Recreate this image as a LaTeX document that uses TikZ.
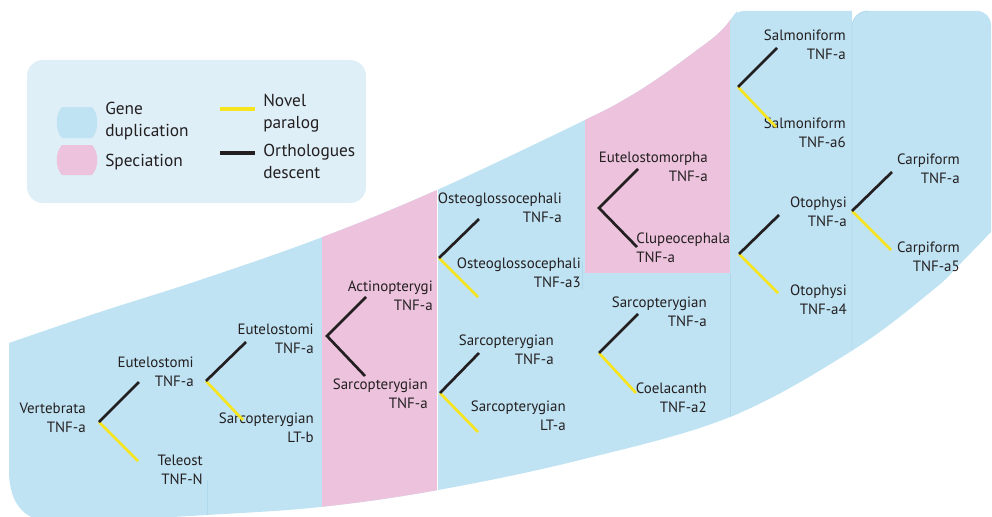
\documentclass[tikz,border=0pt]{standalone}
\usepackage{fontspec}
\setmainfont{PT Sans}

\definecolor{dupblue}{RGB}{191,227,243}
\definecolor{specpink}{RGB}{236,194,220}
\definecolor{legendbg}{RGB}{222,239,248}
\definecolor{novel}{RGB}{246,228,30}
\definecolor{ortho}{RGB}{35,31,32}
\definecolor{seam}{RGB}{176,216,236}
\definecolor{inktext}{RGB}{35,31,32}

\begin{document}
\begin{tikzpicture}[x=0.75pt,y=-0.75pt,
  lbl/.style={font=\fontsize{11.2}{14.3}\selectfont, text=inktext, inner sep=0pt,
              align=right, anchor=east},
  lbll/.style={lbl, align=left, anchor=west},
  legtext/.style={font=\fontsize{13}{16.5}\selectfont, text=inktext, inner sep=0pt,
                  align=left, anchor=west},
  ortholine/.style={draw=ortho, line width=2pt},
  novelline/.style={draw=novel, line width=2pt},
  seamline/.style={draw=seam, line width=0.6pt}]

\useasboundingbox (0,0) rectangle (992,517);

% ---------- background band ----------
% (y grows downwards here, so an arc from 180 to 270 degrees turns upwards)
\begin{scope}
  % everything above the lower edge of the band
  \clip (0,0) -- (992,0) -- (991,232)
        -- plot[smooth, tension=0.6] coordinates {(991,232) (960,264) (933,290) (853,350)
              (730,417) (580,460) (438,490) (320,507) (207,515) (60,523)}
        .. controls (25,523) and (9,505) .. (9,470) -- (0,470) -- (0,0) -- cycle;
  \begin{scope}
    % below the upper edge of the band
    \clip (9,600) -- (9,343)
          -- plot[smooth, tension=0.6] coordinates {(9,343) (100,312) (200,280) (320,238)
                (437,190) (585,120) (627,98) (660,77) (693,53) (720,32) (737,11)}
          -- (740,600) -- cycle;
    \fill[dupblue] (0,0) rectangle (740,600);
    \fill[specpink] (322,0) rectangle (437,600);
    \draw[white, line width=0.8pt] (437.6,0) -- (437.6,600);
    \fill[specpink] (585,0) rectangle (731,273);
  \end{scope}
  % right-hand blocks with rounded tops
  \fill[dupblue] (730,600) -- (730,25) arc[start angle=180, end angle=270, radius=14]
        -- (852,11) -- (852,600) -- cycle;
  \fill[dupblue] (852,600) -- (852,27) arc[start angle=180, end angle=270, radius=16]
        -- (977,11) arc[start angle=270, end angle=360, radius=14] -- (991,600) -- cycle;
  % faint seams between blocks
  \draw[seamline] (730.5,273) -- (730.5,600);
  \draw[seamline] (852,600) -- (852,27) arc[start angle=180, end angle=270, radius=16];
  \draw[seamline] (582,262) -- (582,290);
  \draw[seamline] (207,480) -- (207,520);
\end{scope}

% ---------- legend ----------
\fill[legendbg, rounded corners=12] (27,60) rectangle (366,203);
\fill[dupblue] (62,107) -- (92,107) .. controls (99,114) and (99,131) .. (92,138)
      -- (62,138) .. controls (55,131) and (55,114) .. (62,107) -- cycle;
\fill[specpink] (62,145) -- (92,145) .. controls (99,152) and (99,168) .. (92,175)
      -- (62,175) .. controls (55,168) and (55,152) .. (62,145) -- cycle;
\node[legtext] (lgdup) at (105,121) {Gene\\duplication};
\node[legtext] (lgspec) at (105,162) {Speciation};
\coordinate (lgnovA) at (220,109);
\coordinate (lgnovB) at (255,109);
\coordinate (lgorthA) at (220,153);
\coordinate (lgorthB) at (255,153);
\draw[novelline, line width=2.4pt] (lgnovA) -- (lgnovB);
\draw[ortholine, line width=2.4pt] (lgorthA) -- (lgorthB);
\node[legtext] (lgnov) at (263,113) {Novel\\paralog};
\node[legtext] (lgorth) at (263,161) {Orthologues\\descent};

% ---------- labels ----------
\node[lbl] (vert)   at (86,418)  {Vertebrata\\TNF-a};
\node[lbl] (eut1)   at (194,372) {Eutelostomi\\TNF-a};
\node[lbl] (tel)    at (203,470) {Teleost\\TNF-N};
\node[lbl] (eut2)   at (314,339) {Eutelostomi\\TNF-a};
\node[lbl] (sarLTb) at (314,428) {Sarcopterygian\\LT-b};

\node[lbl] (actin)  at (433,296) {Actinopterygi\\TNF-a};
\node[lbl] (sar1)   at (428,394) {Sarcopterygian\\TNF-a};

\node[lbl] (ost1)   at (562,208) {Osteoglossocephali\\TNF-a};
\node[lbl] (ost3)   at (581,273) {Osteoglossocephali\\TNF-a3};
\node[lbl] (sar2)   at (554,350) {Sarcopterygian\\TNF-a};
\node[lbl] (sarLTa) at (566,416) {Sarcopterygian\\LT-a};

\node[lbl] (eutmor) at (708,167) {Eutelostomorpha\\TNF-a};
\node[lbll] (clup)  at (636,248) {Clupeocephala\\TNF-a};
\node[lbl] (sar3)   at (707,312) {Sarcopterygian\\TNF-a};
\node[lbl] (coel)   at (707,398) {Coelacanth\\TNF-a2};

\node[lbl] (salm)   at (846,45)  {Salmoniform\\TNF-a};
\node[lbl] (salm6)  at (846,133) {Salmoniform\\TNF-a6};
\node[lbl] (oto)    at (847,212) {Otophysi\\TNF-a};
\node[lbl] (oto4)   at (847,300) {Otophysi\\TNF-a4};
\node[lbl] (carp)   at (960,169) {Carpiform\\TNF-a};
\node[lbl] (carp5)  at (960,257) {Carpiform\\TNF-a5};

% ---------- branch points and branch tips ----------
\coordinate (bVert) at (99,422);   \coordinate (tVertO) at (139,382); \coordinate (tVertN) at (138,461);
\coordinate (bEut)  at (206,381);  \coordinate (tEutO)  at (246,342); \coordinate (tEutN)  at (243,420);
\coordinate (bAct)  at (327,336);  \coordinate (tActA)  at (366,297); \coordinate (tActB)  at (365,376);
\coordinate (bOst)  at (439,258);  \coordinate (tOstO)  at (479,219); \coordinate (tOstN)  at (478,297);
\coordinate (bSar)  at (440,393);  \coordinate (tSarO)  at (479,353); \coordinate (tSarN)  at (478,432);
\coordinate (bMor)  at (599,208);  \coordinate (tMorA)  at (638,169); \coordinate (tMorB)  at (637,247);
\coordinate (bCoe)  at (599,353);  \coordinate (tCoeO)  at (638,314); \coordinate (tCoeN)  at (636,393);
\coordinate (bSal)  at (738,87);   \coordinate (tSalO)  at (777,48);  \coordinate (tSalN)  at (776,127);
\coordinate (bOto)  at (739,254);  \coordinate (tOtoO)  at (779,215); \coordinate (tOtoN)  at (778,293);
\coordinate (bCar)  at (852,211);  \coordinate (tCarO)  at (892,172); \coordinate (tCarN)  at (891,250);

% ---------- branches ----------
\draw[novelline] (bVert) -- (tVertN);
\draw[ortholine] (bVert) -- (tVertO);
\draw[novelline] (bEut) -- (tEutN);
\draw[ortholine] (bEut) -- (tEutO);
\draw[ortholine] (tActA) -- (bAct) -- (tActB);
\draw[novelline] (bOst) -- (tOstN);
\draw[ortholine] (bOst) -- (tOstO);
\draw[novelline] (bSar) -- (tSarN);
\draw[ortholine] (bSar) -- (tSarO);
\draw[ortholine] (tMorA) -- (bMor) -- (tMorB);
\draw[novelline] (bCoe) -- (tCoeN);
\draw[ortholine] (bCoe) -- (tCoeO);
\draw[novelline] (bSal) -- (tSalN);
\draw[ortholine] (bSal) -- (tSalO);
\draw[novelline] (bOto) -- (tOtoN);
\draw[ortholine] (bOto) -- (tOtoO);
\draw[novelline] (bCar) -- (tCarN);
\draw[ortholine] (bCar) -- (tCarO);

\end{tikzpicture}
\end{document}
